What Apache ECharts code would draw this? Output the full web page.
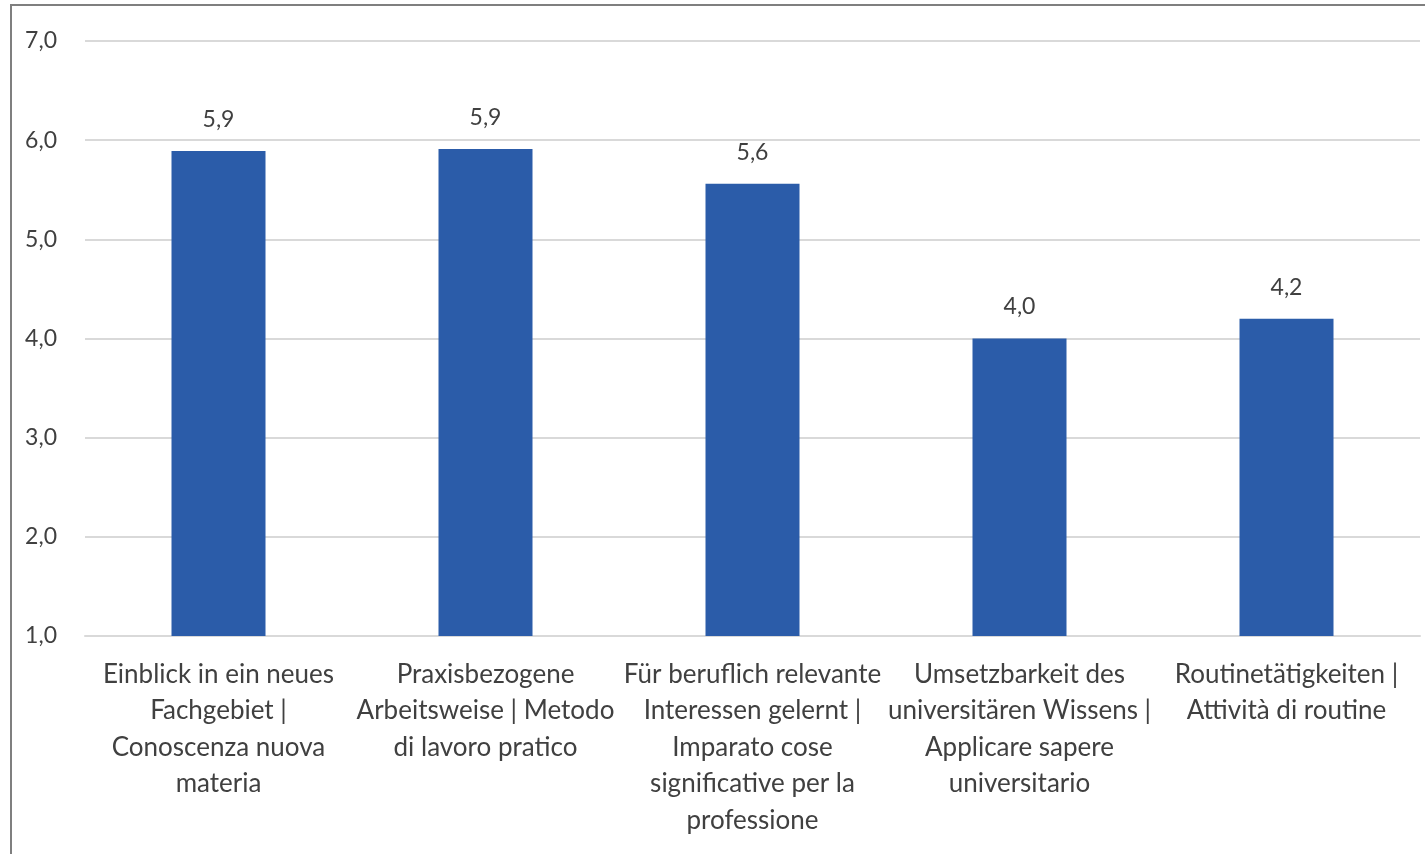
<!DOCTYPE html>
<html>
<head>
<meta charset="utf-8">
<script src="https://cdn.jsdelivr.net/npm/echarts@6/dist/echarts.min.js"></script>
<style>
html,body{margin:0;padding:0;background:#fff;}
#chart{width:1425px;height:854px;}
</style>
</head>
<body>
<div id="chart"></div>
<script>
const categories = [
  "Einblick in ein neues\nFachgebiet |\nConoscenza nuova\nmateria",
  "Praxisbezogene\nArbeitsweise | Metodo\ndi lavoro pratico",
  "Für beruflich relevante\nInteressen gelernt |\nImparato cose\nsignificative per la\nprofessione",
  "Umsetzbarkeit des\nuniversitären Wissens |\nApplicare sapere\nuniversitario",
  "Routinetätigkeiten |\nAttività di routine"
];
const values = [5.89, 5.91, 5.56, 4.0, 4.2];
const yMin = 1, yMax = 7, yInterval = 1;

const FONT = "Lato";
const chart = echarts.init(document.getElementById('chart'));
chart.setOption({
  animation: false,
  backgroundColor: '#fff',
  grid: { left: 85, right: 5, top: 41, bottom: 218, containLabel: false },
  graphic: [{
    type: 'rect',
    shape: { x: 11, y: 5, width: 1500, height: 900 },
    style: { fill: 'none', stroke: '#7f7f7f', lineWidth: 2 },
    silent: true
  }],
  xAxis: {
    type: 'category',
    data: categories,
    axisLine: { show: true, lineStyle: { color: '#d9d9d9', width: 2 } },
    axisTick: { show: false },
    axisLabel: {
      interval: 0, color: '#404040', fontFamily: FONT, fontSize: 26,
      lineHeight: 36.5, margin: 20, align: 'center'
    }
  },
  yAxis: {
    type: 'value', min: yMin, max: yMax, interval: yInterval,
    axisLine: { show: false }, axisTick: { show: false },
    splitLine: { lineStyle: { color: '#d9d9d9', width: 2 } },
    axisLabel: {
      color: '#404040', fontFamily: FONT, fontSize: 23, margin: 28,
      formatter: v => v.toFixed(1).replace('.', ',')
    }
  },
  series: [{
    type: 'bar',
    data: values,
    barWidth: 94,
    itemStyle: { color: '#2b5ca9' },
    label: {
      show: true, position: 'top', distance: 20,
      color: '#404040', fontFamily: FONT, fontSize: 23,
      formatter: p => p.value.toFixed(1).replace('.', ',')
    }
  }]
});
</script>
</body>
</html>
